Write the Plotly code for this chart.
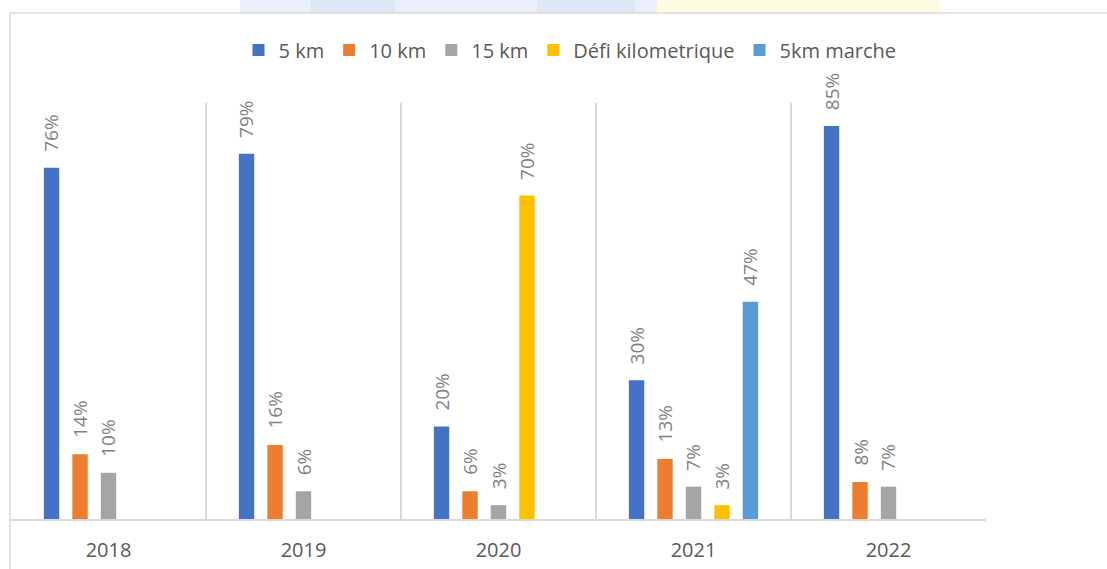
import plotly.graph_objects as go

years = ["2018", "2019", "2020", "2021", "2022"]
series_names = ["5 km", "10 km", "15 km", "Défi kilometrique", "5km marche"]
v_5km = [76, 79, 20, 30, 85]
v_10km = [14, 16, 6, 13, 8]
v_15km = [10, 6, 3, 7, 7]
v_defi = [None, None, 70, 3, None]
v_marche = [None, None, None, 47, None]
colors = ["#4472C4", "#ED7D31", "#A5A5A5", "#FFC000", "#5B9BD5"]

all_values = [v_5km, v_10km, v_15km, v_defi, v_marche]

W, H = 1107, 569
ML, MR, MT, MB = 11, 121, 103, 50
plot_w = W - ML - MR
plot_h = H - MT - MB
bargap = 0.27
slot = plot_w / len(years) * (1 - bargap) / len(series_names)

fig = go.Figure()
for name, vals, col in zip(series_names, all_values, colors):
    fig.add_trace(go.Bar(
        x=years, y=vals, name=name,
        marker=dict(color=col, line=dict(width=0)),
        hoverinfo="x+y+name",
    ))

annotations = []
n = len(series_names)
for i, vals in enumerate(all_values):
    for j, v in enumerate(vals):
        if v is None:
            continue
        annotations.append(dict(
            x=j, y=v, xref="x", yref="y",
            text=f"{v}%", showarrow=False,
            textangle=-90, xanchor="center", yanchor="bottom",
            xshift=(i - (n - 1) / 2) * slot, yshift=14,
            font=dict(family="Open Sans", size=19, color="#808080"),
        ))

def px_x(p):
    return (p - ML) / plot_w

def px_y(p):
    return (H - MB - p) / plot_h

shapes = [
    # faint background watermark above the chart frame
    dict(type="rect", xref="paper", yref="paper", layer="below",
         x0=px_x(240), x1=px_x(657), y0=px_y(13), y1=px_y(0),
         fillcolor="#e9f0f9", line=dict(width=0)),
    dict(type="rect", xref="paper", yref="paper", layer="below",
         x0=px_x(311), x1=px_x(395), y0=px_y(13), y1=px_y(0),
         fillcolor="#dde7f5", line=dict(width=0)),
    dict(type="rect", xref="paper", yref="paper", layer="below",
         x0=px_x(537), x1=px_x(635), y0=px_y(13), y1=px_y(0),
         fillcolor="#dde7f5", line=dict(width=0)),
    dict(type="rect", xref="paper", yref="paper", layer="below",
         x0=px_x(657), x1=px_x(940), y0=px_y(13), y1=px_y(0),
         fillcolor="#fffbe3", line=dict(width=0)),
    # chart frame
    dict(type="rect", xref="paper", yref="paper", layer="below",
         x0=px_x(10), x1=px_x(1130), y0=px_y(590), y1=px_y(13),
         fillcolor="white", line=dict(color="#d9d9d9", width=1.5)),
]

fig.update_layout(
    width=W, height=H,
    margin=dict(l=ML, r=MR, t=MT, b=MB, pad=0, autoexpand=False),
    paper_bgcolor="white", plot_bgcolor="rgba(0,0,0,0)",
    barmode="group", bargap=bargap, bargroupgap=0.46,
    font=dict(family="Open Sans", color="#595959"),
    legend=dict(
        orientation="h", x=px_x(570), xanchor="center",
        y=px_y(50), yanchor="middle",
        font=dict(family="Open Sans", size=20, color="#595959"),
        bgcolor="rgba(0,0,0,0)", itemwidth=30,
    ),
    xaxis=dict(
        type="category", tickson="boundaries", range=[-0.5, 4.5],
        autorange=False, automargin=False,
        showgrid=True, gridcolor="#d9d9d9", gridwidth=1.5,
        showline=True, linecolor="#d9d9d9", linewidth=2,
        ticks="", ticklabelstandoff=12, tickangle=0,
        tickfont=dict(family="Open Sans", size=20, color="#595959"),
        zeroline=False, mirror=False,
    ),
    yaxis=dict(range=[0, 90], visible=False, showgrid=False, zeroline=False,
               automargin=False),
    annotations=annotations,
    shapes=shapes,
    showlegend=True,
)

fig.write_html(
    "out.html",
    config={"displayModeBar": False},
    post_script="document.body.style.margin='0';document.body.style.overflow='hidden';",
)
